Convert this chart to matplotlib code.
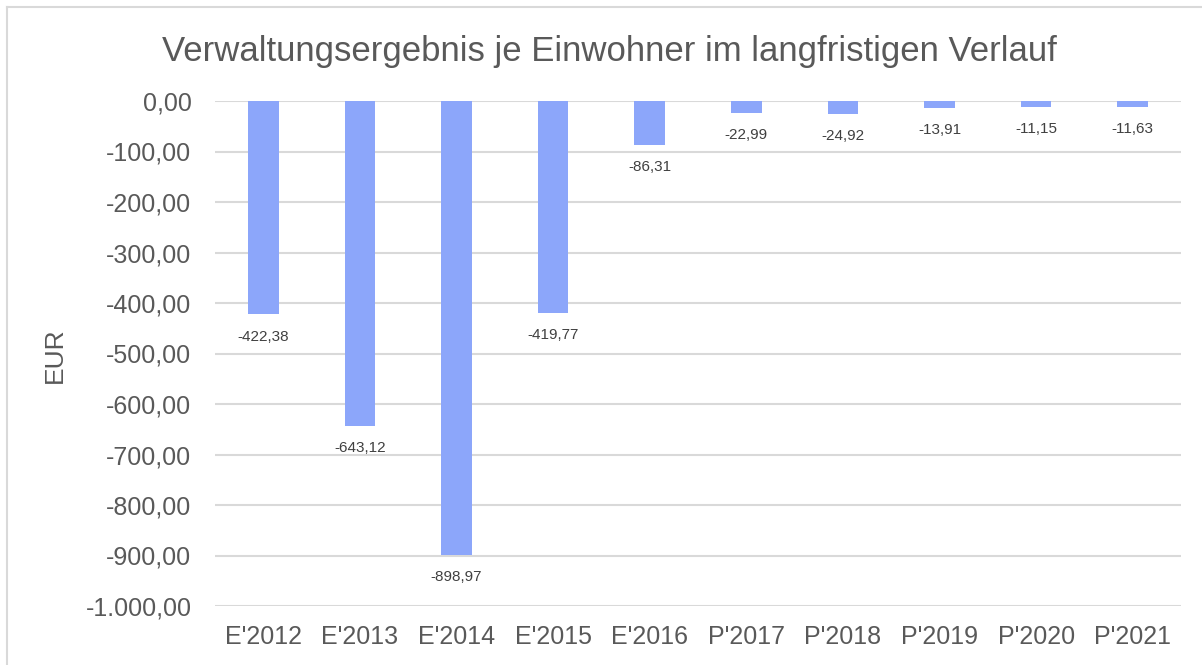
import matplotlib.pyplot as plt
from matplotlib.lines import Line2D

categories = ["E'2012", "E'2013", "E'2014", "E'2015", "E'2016",
              "P'2017", "P'2018", "P'2019", "P'2020", "P'2021"]
values = [-422.38, -643.12, -898.97, -419.77, -86.31,
          -22.99, -24.92, -13.91, -11.15, -11.63]
yticks = list(range(0, -1001, -100))

plt.rcParams['font.family'] = ['Liberation Sans', 'DejaVu Sans']
text_col = '#595959'


def de_fmt(v):
    s = f"{v:,.2f}"
    return s.replace(',', 'X').replace('.', ',').replace('X', '.')


fig = plt.figure(figsize=(12.02, 6.65), dpi=100)
ax = fig.add_axes([215/1202, 1-606/665, (1181-215)/1202, (606-101)/665])

x = range(len(categories))
bars = ax.bar(x, values, width=0.315, color='#8CA6FA', zorder=3)

for b, v in zip(bars, values):
    ax.annotate(de_fmt(v), (b.get_x() + b.get_width()/2, v),
                xytext=(0, -16), textcoords='offset points',
                ha='center', va='center', fontsize=11, color='#404040')

ax.set_xlim(-0.5, len(categories) - 0.5)
ax.set_ylim(-1000, 0)
ax.set_yticks(yticks)
ax.set_yticklabels([de_fmt(t) for t in yticks])
ax.set_xticks(list(x))
ax.set_xticklabels(categories)
ax.tick_params(axis='y', length=0, pad=17, labelsize=18, labelcolor=text_col)
ax.tick_params(axis='x', length=0, pad=14, labelsize=18, labelcolor=text_col)
ax.grid(axis='y', color='#D9D9D9', linewidth=1.5, zorder=0)
for s in ax.spines.values():
    s.set_visible(False)

fig.text(609/1202, 1-51/665, 'Verwaltungsergebnis je Einwohner im langfristigen Verlauf',
         ha='center', va='center', fontsize=25, color=text_col)
fig.text(55/1202, 1-355/665, 'EUR', rotation=90, ha='center', va='center',
         fontsize=19, color=text_col)

# chart frame (left and top edges visible)
fig.add_artist(Line2D([7/1202, 7/1202], [0, 1-7/665], color='#D9D9D9', lw=1.5,
                      transform=fig.transFigure))
fig.add_artist(Line2D([7/1202, 1], [1-7/665, 1-7/665], color='#D9D9D9', lw=1.5,
                      transform=fig.transFigure))

fig.savefig('out.png', dpi=100)
